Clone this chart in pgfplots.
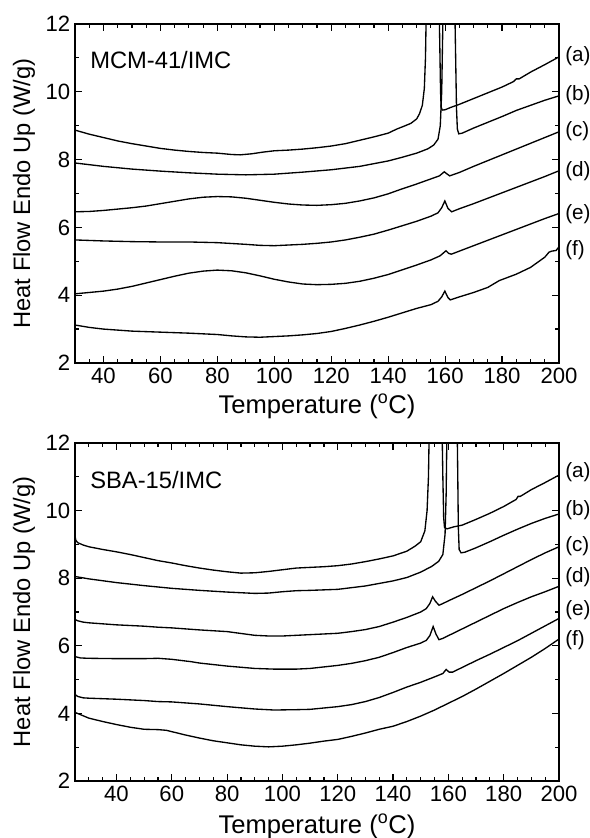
\documentclass[border=0pt]{standalone}
\usepackage{fontspec}
\setmainfont{Liberation Sans}
\usepackage{pgfplots}
\pgfplotsset{compat=1.18}
\pgfplotsset{dsc/.style={
  scale only axis, width=363pt,
  ymin=2, ymax=12, xmax=200,
  ytick={2,4,...,12}, minor ytick={3,5,...,11},
  xtick={40,60,...,200},
  tick align=inside,
  major tick length=5pt, minor tick length=3pt,
  every tick/.style={black, line width=0.9pt},
  axis line style={line width=1.3pt},
  tick label style={font=\fontsize{16.6}{19}\selectfont},
  /pgf/number format/assume math mode=true,
  clip mode=individual,
  every axis plot post/.append style={black, solid, mark=none, line width=1pt},
  ylabel={Heat Flow Endo Up (W/g)},
  xlabel={Temperature (\textsuperscript{o}C)},
  ylabel style={at={(axis description cs:-0.1054,0.5)}, rotate=0, anchor=center, font=\fontsize{17.8}{21}\selectfont},
}}
\tikzset{lab/.style={anchor=west, inner sep=0pt, xshift=4.5pt, font=\fontsize{15.5}{18}\selectfont},
ttl/.style={anchor=base west, inner sep=0pt, font=\fontsize{17.8}{21}\selectfont}}
\begin{document}
\begin{tikzpicture}
\path[use as bounding box] (0,0) rectangle (441.75pt,628.5pt);
% ---------------- top panel ----------------
\begin{axis}[dsc, at={(56.25pt,356.25pt)}, anchor=south west, height=254.25pt,
  xmin=30, minor xtick={30,35,...,200},
  xlabel style={at={(axis description cs:0.5,-0.148)}, anchor=base, font=\fontsize{19.2}{22}\selectfont}]
\addplot coordinates {(30,8.87)(35,8.75)(40,8.65)(45,8.55)(50,8.47)(55,8.40)(60,8.33)(65,8.28)(70,8.24)(75,8.21)(80,8.19)(85,8.15)(88,8.14)(92,8.17)(96,8.22)(100,8.26)(105,8.28)(110,8.31)(115,8.35)(120,8.40)(125,8.47)(130,8.57)(135,8.67)(140,8.78)(143,8.90)(146,9.00)(148,9.07)(150,9.20)(151,9.35)(152,9.60)(152.7,10.10)(153.1,11.00)(153.4,12.50)(155.5,16)(157.8,13)(158.2,11)(158.4,10)(158.6,9.55)(159,9.46)(160,9.47)(162,9.54)(165,9.63)(170,9.80)(175,9.97)(180,10.14)(184,10.30)(185,10.38)(186,10.38)(190,10.58)(195,10.80)(200,11.03)};
\addplot coordinates {(30,7.90)(35,7.85)(40,7.80)(50,7.72)(60,7.66)(70,7.61)(80,7.57)(90,7.55)(100,7.57)(105,7.60)(110,7.63)(120,7.70)(130,7.80)(140,7.96)(145,8.07)(150,8.19)(154,8.32)(156,8.43)(157.5,8.60)(158.3,9.00)(158.8,10.0)(159.1,11.5)(159.4,13)(161,16)(163.3,13)(163.7,11)(164,9.5)(164.3,8.9)(164.8,8.76)(166,8.78)(170,8.93)(175,9.10)(180,9.27)(185,9.45)(190,9.60)(195,9.75)(200,9.88)};
\addplot coordinates {(30,6.46)(35,6.47)(40,6.50)(45,6.54)(50,6.58)(55,6.63)(60,6.70)(65,6.77)(70,6.84)(75,6.89)(80,6.91)(85,6.90)(90,6.86)(95,6.80)(100,6.74)(105,6.69)(110,6.66)(115,6.65)(120,6.67)(125,6.71)(130,6.78)(135,6.87)(140,6.99)(145,7.14)(150,7.28)(155,7.43)(158,7.52)(159.7,7.64)(160.6,7.58)(161.6,7.52)(165,7.62)(170,7.80)(175,7.97)(180,8.14)(185,8.31)(190,8.48)(195,8.65)(200,8.82)};
\addplot coordinates {(30,5.63)(40,5.60)(50,5.58)(60,5.57)(70,5.57)(80,5.55)(90,5.50)(95,5.47)(100,5.46)(105,5.48)(110,5.50)(115,5.53)(120,5.57)(125,5.63)(130,5.71)(135,5.80)(140,5.92)(145,6.05)(150,6.18)(155,6.33)(157.5,6.43)(158.8,6.58)(159.9,6.78)(161,6.56)(162.3,6.46)(165,6.55)(170,6.70)(175,6.86)(180,7.02)(185,7.18)(190,7.34)(195,7.50)(200,7.67)};
\addplot coordinates {(30,4.04)(35,4.08)(40,4.12)(45,4.18)(50,4.26)(55,4.36)(60,4.46)(65,4.56)(70,4.65)(75,4.71)(80,4.74)(85,4.72)(90,4.66)(95,4.57)(100,4.47)(105,4.39)(110,4.33)(115,4.31)(120,4.32)(125,4.35)(130,4.41)(135,4.50)(140,4.61)(145,4.75)(150,4.89)(155,5.04)(158.2,5.16)(160.3,5.31)(161.3,5.23)(162.2,5.21)(165,5.30)(170,5.46)(175,5.62)(180,5.78)(185,5.94)(190,6.10)(195,6.26)(200,6.41)};
\addplot coordinates {(30,3.12)(35,3.05)(40,3.00)(45,2.97)(50,2.94)(60,2.91)(70,2.88)(80,2.84)(85,2.80)(90,2.77)(95,2.76)(100,2.78)(105,2.80)(110,2.83)(115,2.87)(120,2.93)(125,3.02)(130,3.12)(135,3.23)(140,3.35)(145,3.48)(150,3.61)(155,3.72)(157.5,3.82)(158.8,3.95)(159.9,4.12)(161,3.93)(161.8,3.86)(165,3.95)(170,4.08)(175,4.23)(179,4.43)(185,4.62)(190,4.82)(195,5.12)(196.5,5.27)(197.5,5.30)(199,5.32)(200,5.43)};
\node[ttl] at (rel axis cs:0.031,0.869) {MCM-41/IMC};
\node[lab] at (200,11.04) {(a)};
\node[lab] at (200,9.90) {(b)};
\node[lab] at (200,8.85) {(c)};
\node[lab] at (200,7.67) {(d)};
\node[lab] at (200,6.39) {(e)};
\node[lab] at (200,5.33) {(f)};
\end{axis}
% ---------------- bottom panel ----------------
\begin{axis}[dsc, at={(56.25pt,42.75pt)}, anchor=south west, height=253.5pt,
  xmin=25, minor xtick={25,30,...,200},
  xlabel style={at={(axis description cs:0.5,-0.154)}, anchor=base, font=\fontsize{19.2}{22}\selectfont}]
\addplot coordinates {(25,9.25)(25.3,9.12)(26,9.05)(28,8.98)(30,8.93)(35,8.85)(40,8.78)(45,8.70)(50,8.61)(55,8.52)(60,8.45)(65,8.37)(70,8.30)(75,8.24)(80,8.19)(85,8.15)(90,8.16)(95,8.20)(100,8.25)(105,8.30)(110,8.32)(115,8.34)(120,8.37)(125,8.42)(130,8.49)(135,8.57)(140,8.66)(145,8.80)(148,8.95)(150,9.08)(151.5,9.40)(152.3,10.0)(152.8,11)(153.1,12.5)(155,16)(157.6,13)(158,11)(158.3,9.8)(158.6,9.5)(159.5,9.46)(162,9.52)(165,9.57)(170,9.74)(175,9.92)(180,10.12)(184.5,10.33)(185.2,10.42)(186,10.42)(190,10.62)(195,10.83)(200,11.05)};
\addplot coordinates {(25,8.05)(30,7.98)(40,7.87)(50,7.78)(60,7.70)(70,7.64)(80,7.59)(90,7.55)(95,7.56)(100,7.60)(105,7.63)(110,7.64)(120,7.67)(130,7.77)(140,7.92)(145,8.02)(150,8.18)(154,8.35)(156.5,8.50)(158,8.70)(158.8,9.3)(159.2,10.5)(159.5,12.5)(161.3,16)(163.1,13)(163.4,11)(163.6,9.5)(163.9,8.85)(164.6,8.75)(166,8.77)(170,8.90)(175,9.08)(180,9.27)(185,9.45)(190,9.62)(195,9.77)(200,9.90)};
\addplot coordinates {(25,6.78)(26,6.74)(28,6.70)(30,6.68)(40,6.62)(50,6.58)(55,6.55)(60,6.53)(70,6.47)(80,6.42)(90,6.31)(95,6.29)(100,6.29)(105,6.31)(110,6.33)(120,6.37)(125,6.42)(130,6.48)(135,6.57)(140,6.70)(145,6.84)(150,7.00)(152,7.10)(153.3,7.25)(154.3,7.45)(155.3,7.32)(156.6,7.20)(158,7.25)(160,7.33)(165,7.52)(170,7.72)(175,7.92)(180,8.13)(185,8.34)(190,8.55)(195,8.75)(200,8.93)};
\addplot coordinates {(25,5.68)(27,5.64)(30,5.63)(40,5.62)(50,5.62)(55,5.63)(60,5.60)(67,5.53)(70,5.49)(80,5.40)(90,5.33)(97,5.31)(105,5.31)(110,5.33)(120,5.42)(125,5.48)(130,5.56)(135,5.66)(140,5.80)(145,5.95)(150,6.08)(152,6.16)(153.3,6.30)(154.5,6.57)(155.5,6.35)(156.6,6.18)(158,6.22)(160,6.30)(165,6.50)(170,6.70)(175,6.90)(180,7.10)(185,7.28)(190,7.45)(195,7.60)(200,7.76)};
\addplot coordinates {(25,4.56)(26,4.50)(28,4.46)(30,4.45)(40,4.42)(50,4.38)(55,4.35)(60,4.34)(70,4.28)(80,4.20)(90,4.13)(97,4.10)(105,4.11)(110,4.12)(120,4.20)(125,4.26)(130,4.35)(135,4.47)(140,4.62)(145,4.78)(150,4.92)(155,5.08)(158,5.18)(159.2,5.30)(160.3,5.22)(161.5,5.22)(165,5.36)(170,5.56)(175,5.75)(180,5.95)(185,6.15)(190,6.37)(195,6.59)(200,6.81)};
\addplot coordinates {(25,4.03)(30,3.86)(35,3.76)(40,3.67)(45,3.59)(50,3.53)(55,3.52)(58,3.50)(62,3.42)(65,3.36)(70,3.27)(75,3.19)(80,3.13)(85,3.07)(90,3.03)(95,3.01)(100,3.03)(105,3.07)(110,3.12)(115,3.18)(120,3.23)(125,3.32)(130,3.42)(135,3.53)(140,3.62)(145,3.76)(150,3.92)(155,4.10)(160,4.30)(165,4.50)(170,4.72)(175,4.95)(180,5.18)(185,5.42)(190,5.66)(195,5.92)(200,6.20)};
\node[ttl] at (rel axis cs:0.031,0.866) {SBA-15/IMC};
\node[lab] at (200,11.15) {(a)};
\node[lab] at (200,10.02) {(b)};
\node[lab] at (200,8.95) {(c)};
\node[lab] at (200,8.04) {(d)};
\node[lab] at (200,7.06) {(e)};
\node[lab] at (200,6.17) {(f)};
\end{axis}
\end{tikzpicture}
\end{document}
